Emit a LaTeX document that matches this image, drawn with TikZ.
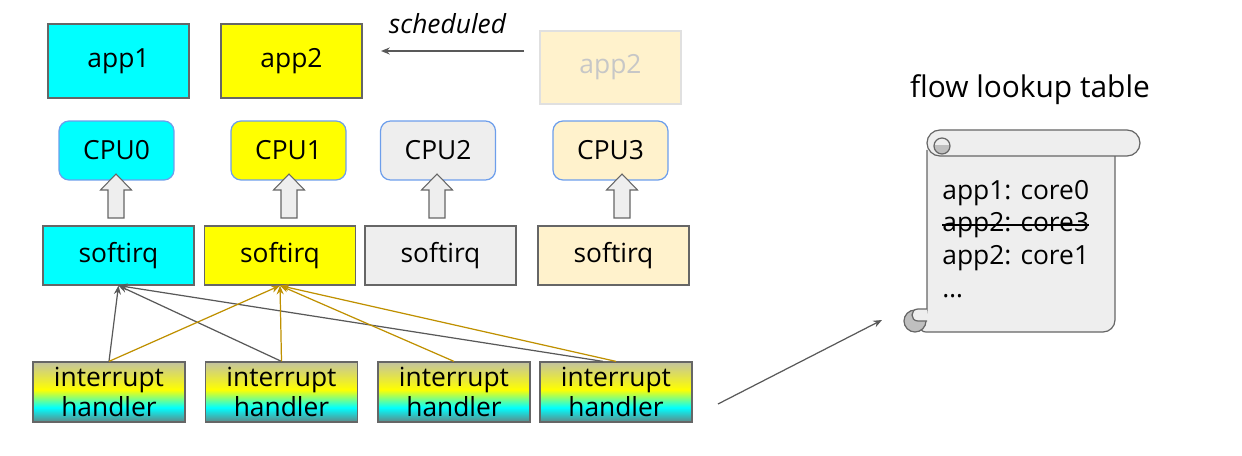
\documentclass[tikz,border=0pt]{standalone}
\usepackage{fontspec}
\setmainfont{Open Sans}
\usetikzlibrary{arrows.meta}

\definecolor{boxline}{HTML}{666666}
\definecolor{cpuline}{HTML}{6D9EEB}
\definecolor{aqua}{RGB}{0,255,255}
\definecolor{lemon}{RGB}{255,255,0}
\definecolor{pale}{HTML}{EEEEEE}
\definecolor{cream}{HTML}{FFF2CC}
\definecolor{gold}{HTML}{BF9000}
\definecolor{wiregray}{HTML}{595959}
\definecolor{curlgray}{HTML}{BFBFBF}
\definecolor{ihtop}{RGB}{195,195,160}
\definecolor{ihbot}{RGB}{95,135,135}
\pgfdeclareverticalshading{ihshade}{100bp}{color(0bp)=(ihbot); color(25bp)=(ihbot); color(37bp)=(aqua); color(52bp)=(lemon); color(75bp)=(ihtop); color(100bp)=(ihtop)}

\begin{document}
\begin{tikzpicture}[x=0.02cm, y=-0.02cm, >={Stealth[length=5pt,width=4pt]},
	box/.style={draw=boxline, line width=0.7pt, inner sep=0pt, font=\fontsize{15}{17}\selectfont},
	app/.style={box, minimum width=2.82cm, minimum height=1.48cm},
	cpu/.style={box, draw=cpuline, rounded corners=0.2cm, minimum width=2.3cm, minimum height=1.18cm},
	sirq/.style={box, minimum width=3.02cm, minimum height=1.18cm},
	handler/.style={box, shade, shading=ihshade, align=center, minimum width=3.04cm, minimum height=1.2cm},
	wire/.style={->, draw=wiregray, line width=0.7pt},
	goldwire/.style={wire, draw=gold},
	uparrow/.style={draw=boxline, fill=pale, line width=0.6pt},
	scroll/.style={draw=boxline, fill=pale, line width=0.7pt},
	row/.style={anchor=base west, inner sep=0pt, font=\fontsize{15}{17}\selectfont}]
	\useasboundingbox (0,0) rectangle (1242,456);

	\node[app, fill=aqua] (app1) at (118.5,61) {app1};
	\node[app, fill=lemon] (app2) at (291.5,61) {app2};
	\node[app, fill=cream, draw=black!12, text=black!22, minimum height=1.46cm] (old) at (610.5,67.5) {app2};
	\coordinate (s0) at (524,51);
	\coordinate (s1) at (381,51);
	\draw[wire] (s0) -- node[above=6pt, xshift=-0.1cm, font=\fontsize{15}{17}\selectfont\itshape] {scheduled} (s1);

	\node[cpu, fill=aqua] (cpu0) at (116.5,150.5) {CPU0};
	\node[cpu, fill=lemon] (cpu1) at (288.5,150.5) {CPU1};
	\node[cpu, fill=pale] (cpu2) at (438,150.5) {CPU2};
	\node[cpu, fill=cream] (cpu3) at (610.5,150.5) {CPU3};

	\draw[uparrow] (108,218) -- ++(0,-28) -- ++(-7.5,0) -- ++(15.5,-16) -- ++(15.5,16) -- ++(-7.5,0) -- ++(0,28) -- cycle;
	\draw[uparrow] (281,218) -- ++(0,-28) -- ++(-7.5,0) -- ++(15.5,-16) -- ++(15.5,16) -- ++(-7.5,0) -- ++(0,28) -- cycle;
	\draw[uparrow] (429,218) -- ++(0,-28) -- ++(-7.5,0) -- ++(15.5,-16) -- ++(15.5,16) -- ++(-7.5,0) -- ++(0,28) -- cycle;
	\draw[uparrow] (614,218) -- ++(0,-28) -- ++(-7.5,0) -- ++(15.5,-16) -- ++(15.5,16) -- ++(-7.5,0) -- ++(0,28) -- cycle;

	\node[sirq, fill=aqua] (sf0) at (118.5,255.5) {softirq};
	\node[sirq, fill=lemon] (sf1) at (280,255.5) {softirq};
	\node[sirq, fill=pale] (sf2) at (440.5,255.5) {softirq};
	\node[sirq, fill=cream] (sf3) at (613.5,255.5) {softirq};

	\node[handler] (ih0) at (109,392) {interrupt\\handler};
	\node[handler] (ih1) at (281.5,392) {interrupt\\handler};
	\node[handler] (ih2) at (454,392) {interrupt\\handler};
	\node[handler] (ih3) at (616,392) {interrupt\\handler};

	\draw[wire] (ih0.north) -- (sf0.south);
	\draw[wire] (ih1.north) -- (sf0.south);
	\draw[wire] ([xshift=-0.26cm]ih3.north) -- (sf0.south);
	\draw[goldwire] (ih0.north) -- (sf1.south);
	\draw[goldwire] (ih1.north) -- (sf1.south);
	\draw[goldwire] (ih2.north) -- (sf1.south);
	\draw[goldwire] (ih3.north) -- (sf1.south);

	\coordinate (t0) at (718,404);
	\coordinate (t1) at (882,320);
	\draw[wire] (t0) -- (t1);

	\node[font=\fontsize{17}{20}\selectfont] (title) at (1030,90) {flow lookup table};
	\filldraw[scroll, rounded corners=0.24cm] (927,150) -- (927,321) -- (915,332) -- (1115,332) -- (1115,150);
	\filldraw[scroll, rounded corners=0.26cm] (927,130) rectangle (1140,156);
	\begin{scope}
		\clip (925,146) rectangle (960,160);
		\fill[curlgray] (942,146) circle[radius=0.16cm];
	\end{scope}
	\draw[boxline, line width=0.7pt] (942,146) circle[radius=0.16cm];
	\filldraw[draw=boxline, fill=curlgray, line width=0.7pt] (915,321) circle[radius=0.22cm];
	\filldraw[scroll] (927,309) -- (918,309) .. controls (910,309) and (910,321) .. (918,321) -- (927,321);

	\node[row] (row1) at (942,200) {app1: core0};
	\node[row] (row2) at (942,232) {app2: core3};
	\node[row] (row3) at (942,264) {app2: core1};
	\node[row] (row4) at (942,297) {…};
	\draw[line width=0.9pt] ([yshift=4pt]row2.base west) -- ([yshift=4pt]row2.base east);
\end{tikzpicture}
\end{document}
